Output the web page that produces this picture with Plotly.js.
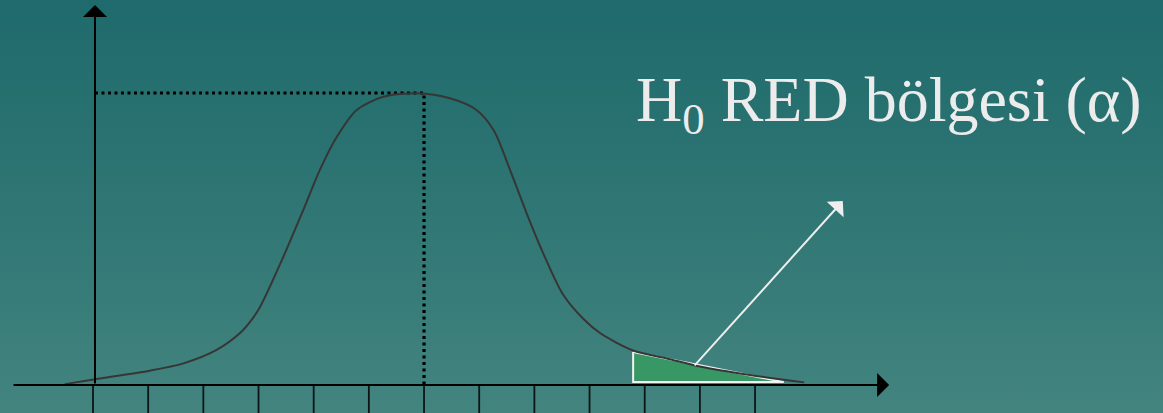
<!DOCTYPE html>
<html>
<head>
<meta charset="utf-8">
<script src="https://cdn.plot.ly/plotly-3.0.1.min.js"></script>
<style>
  html, body { margin: 0; padding: 0; }
  #chart {
    width: 1163px; height: 413px;
    background: linear-gradient(to bottom, #1f6a6c 0%, #2f7674 50%, #43847f 100%);
  }
</style>
</head>
<body>
<div id="chart"></div>
<script>
// curve (x in tick units, y relative to the peak)
const curveX = [-0.51, 0.04, 1.03, 1.64, 2.24, 2.66, 2.85, 3.03, 3.45, 3.81, 4.11, 4.42, 4.78, 5.26, 5.87, 6.47, 6.95, 7.26, 7.56, 7.86, 8.16, 8.52, 8.89, 9.19, 9.79, 10.40, 11.00, 11.91, 12.89];
const curveY = [0.003, 0.020, 0.049, 0.074, 0.120, 0.177, 0.217, 0.268, 0.439, 0.599, 0.736, 0.850, 0.942, 0.987, 0.999, 0.982, 0.942, 0.873, 0.736, 0.588, 0.451, 0.310, 0.226, 0.178, 0.118, 0.091, 0.063, 0.034, 0.009];

const tickPositions = [0, 1, 2, 3, 4, 5, 6, 7, 8, 9, 10, 11, 12];
const peakX = 6.0;
const peakY = 1.0;
const yAxisX = 0.036;
const xAxisFrom = -1.468, xAxisTo = 14.43;
const yAxisTop = 1.301;

// rejection region (triangle)
const regionX = [9.79, 9.79, 12.52, 9.79];
const regionY = [0.113, 0.010, 0.010, 0.113];

// pointer arrow: tail and head
const pointerFrom = [10.88, 0.062];
const pointerTo = [13.59, 0.630];

const labelText = 'H<sub>0</sub> RED bölgesi (α)';
const labelPos = [9.80, 0.963];

const xRange = [-1.6857, 19.394];
const yRange = [-0.0959, 1.3185];
const tickBottom = yRange[0];

let tickX = [], tickY = [];
tickPositions.forEach(t => {
  tickX.push(t, t, null);
  tickY.push(0, tickBottom, null);
});

const traces = [
  { // ticks below the axis
    x: tickX, y: tickY, mode: 'lines', type: 'scatter',
    line: {color: '#0d1515', width: 1.8}, hoverinfo: 'skip'
  },
  { // dotted guide lines to the peak
    x: [yAxisX, peakX, peakX], y: [peakY, peakY, 0],
    mode: 'lines', type: 'scatter',
    line: {color: '#000000', width: 3.2, dash: '3px,3.5px'}, hoverinfo: 'skip'
  },
  { // rejection region
    x: regionX, y: regionY, mode: 'lines', type: 'scatter',
    fill: 'toself', fillcolor: '#379866',
    line: {color: '#f2f2f2', width: 2}, hoverinfo: 'skip'
  },
  { // distribution curve
    x: curveX, y: curveY, mode: 'lines', type: 'scatter',
    line: {color: '#363636', width: 2, shape: 'spline', smoothing: 0.8}, hoverinfo: 'skip'
  }
];

const arrow = (x0, y0, x1, y1, color, size) => ({
  x: x1, y: y1, ax: x0, ay: y0, xref: 'x', yref: 'y', axref: 'x', ayref: 'y',
  text: '', showarrow: true, arrowhead: 1, arrowsize: size, arrowwidth: 2,
  arrowcolor: color, standoff: 0, startstandoff: 0
});

const layout = {
  width: 1163, height: 413,
  margin: {l: 0, r: 0, t: 0, b: 0},
  paper_bgcolor: 'rgba(0,0,0,0)',
  plot_bgcolor: 'rgba(0,0,0,0)',
  showlegend: false,
  xaxis: {range: xRange, visible: false, fixedrange: true},
  yaxis: {range: yRange, visible: false, fixedrange: true},
  annotations: [
    arrow(xAxisFrom, 0, xAxisTo, 0, '#000000', 2.0),
    arrow(yAxisX, 0, yAxisX, yAxisTop, '#000000', 2.0),
    arrow(pointerFrom[0], pointerFrom[1], pointerTo[0], pointerTo[1], '#eeeeee', 1.9),
    {
      x: labelPos[0], y: labelPos[1], xref: 'x', yref: 'y',
      xanchor: 'left', yanchor: 'middle', showarrow: false,
      text: labelText,
      font: {family: 'Times New Roman', size: 64, color: '#ececec'}
    }
  ]
};

Plotly.newPlot('chart', traces, layout, {staticPlot: true, displayModeBar: false});
</script>
</body>
</html>
